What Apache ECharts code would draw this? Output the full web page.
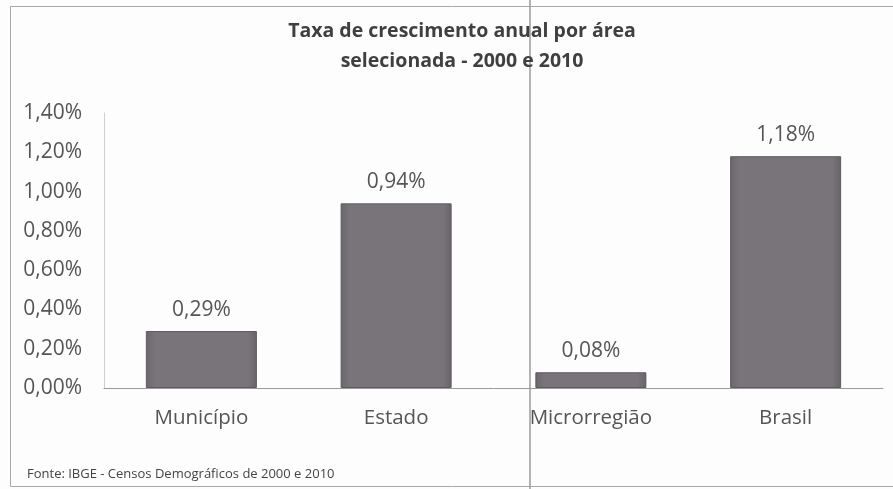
<!DOCTYPE html>
<html><head><meta charset="utf-8">
<script src="https://cdn.jsdelivr.net/npm/echarts@6/dist/echarts.min.js"></script>
<style>html,body{margin:0;padding:0;background:#fff}#c{width:893px;height:489px}</style>
</head><body><div id="c"></div>
<script>
const categories = ['Município', 'Estado', 'Microrregião', 'Brasil'];
const values = [0.29, 0.94, 0.08, 1.18];
const titleLines = ['Taxa de crescimento anual por área', 'selecionada - 2000 e 2010'];
const sourceText = 'Fonte: IBGE - Censos Demográficos de 2000 e 2010';

const fmt = v => v.toFixed(2).replace('.', ',') + '%';
const FONT = '"Open Sans", sans-serif';
const chart = echarts.init(document.getElementById('c'));
chart.setOption({
  animation: false,
  backgroundColor: '#fdfdfd',
  title: {
    text: titleLines.join('\n'), left: 457, top: 11, textAlign: 'center',
    textStyle: { fontFamily: FONT, fontSize: 19.5, fontWeight: 'bold', color: '#3f3f3f', lineHeight: 30, align: 'center' }
  },
  grid: { left: 104, right: 10, top: 113, bottom: 101 },
  xAxis: {
    type: 'category', data: categories,
    axisLine: { lineStyle: { color: '#9a9a9a', width: 1 } },
    axisTick: { show: false },
    axisLabel: { fontFamily: FONT, fontSize: 20.5, color: '#555', margin: 20 }
  },
  yAxis: {
    type: 'value', min: 0, max: 1.4, interval: 0.2,
    axisLine: { show: true, lineStyle: { color: '#cfcfcf' } },
    splitLine: { show: false }, axisTick: { show: false },
    axisLabel: { fontFamily: FONT, fontSize: 21, color: '#555', margin: 22, formatter: fmt }
  },
  series: [{
    type: 'bar', data: values, barWidth: '57%',
    itemStyle: {
      color: new echarts.graphic.LinearGradient(0, 0, 1, 0, [
        { offset: 0, color: '#6a666b' }, { offset: 0.08, color: '#78747a' },
        { offset: 0.92, color: '#78747a' }, { offset: 1, color: '#676368' }
      ]),
      borderColor: '#5e5a5f', borderWidth: 1
    },
    label: { show: true, position: 'top', distance: 11, formatter: p => fmt(p.value),
      fontFamily: FONT, fontSize: 21, color: '#555' }
  }],
  graphic: [
    { type: 'rect', shape: { x: 10.5, y: 6.5, width: 900, height: 480 }, style: { fill: null, stroke: '#a8a8a8', lineWidth: 1 }, silent: true },
    { type: 'line', shape: { x1: 530, y1: 0, x2: 530, y2: 489 }, style: { stroke: '#9a9a9a', lineWidth: 1.5 }, silent: true },
    { type: 'text', left: 27, top: 468, style: { text: sourceText, font: '13px ' + FONT, fill: '#444' } }
  ]
});
</script></body></html>
